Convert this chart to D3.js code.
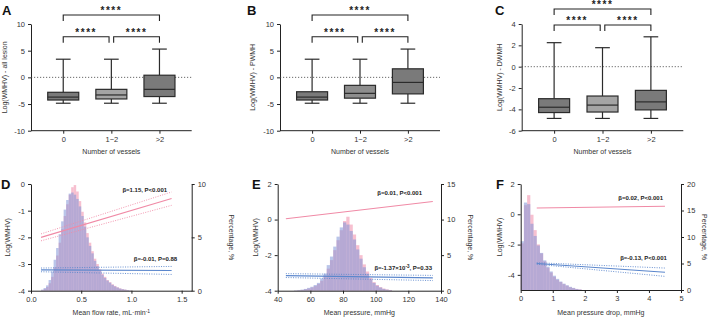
<!DOCTYPE html>
<html>
<head>
<meta charset="utf-8">
<script src="https://cdn.jsdelivr.net/npm/d3@7"></script>
<style>
  body { margin: 0; background: #fff; }
  svg { font-family: "Liberation Sans", Arial, sans-serif; }
  .axis path, .axis line { stroke: #222; stroke-width: 1; }
  .axis text { font-size: 7.5px; fill: #333; }
  .title { font-size: 7px; fill: #333; }
  .letter { font-size: 13px; font-weight: bold; fill: #111; }
  .note { font-size: 6px; font-weight: bold; fill: #222; }
</style>
</head>
<body>
<script>
// ---------- top row: box plots ----------
const vesselGroups = ["0", "1~2", ">2"];
// each row: [min, q1, median, q3, max]
const boxAllLesion = [[-4.85, -4.25, -3.7, -2.8, 3.4], [-4.85, -4.05, -3.3, -2.25, 3.4], [-4.85, -3.6, -2.25, 0.4, 5.3]];
const boxPWMH = [[-4.85, -4.25, -3.7, -2.7, 3.4], [-4.85, -3.9, -3.0, -1.5, 3.4], [-4.85, -3.1, -0.95, 1.6, 5.3]];
const boxDWMH = [[-4.85, -4.3, -3.8, -3.0, 2.25], [-4.85, -4.25, -3.6, -2.75, 1.78], [-4.85, -4.05, -3.3, -2.22, 2.8]];

// ---------- bottom row: histograms (percent per bin) ----------
const flowBinWidth = 0.025, flowBinStart = 0.1;
const flowPink = [0.05, 0.15, 0.35, 0.7, 1.3, 2.2, 3.3, 4.5, 5.8, 7.0, 8.1, 9.0, 9.7, 9.9, 9.3, 8.4, 7.4, 6.4, 5.4, 4.5,
                  3.7, 3.0, 2.5, 2.0, 1.6, 1.3, 1.0, 0.8, 0.6, 0.45, 0.32, 0.22, 0.15, 0.1, 0.06, 0.03];
const flowBlue = [0.1, 0.25, 0.5, 1.0, 1.8, 2.9, 4.0, 5.3, 6.5, 7.6, 8.5, 9.1, 9.2, 9.0, 8.6, 7.9, 7.0, 6.0, 5.0, 4.2,
                  3.5, 2.8, 2.3, 1.9, 1.5, 1.2, 0.95, 0.75, 0.55, 0.4, 0.3, 0.2, 0.14, 0.1, 0.06, 0.03];

const pressBinWidth = 2, pressBinStart = 50;
const pressPink = [0.03, 0.06, 0.1, 0.2, 0.3, 0.45, 0.65, 0.95, 1.4, 2.1, 3.1, 4.3, 5.7, 7.1, 8.5, 9.8, 10.4, 9.3, 7.9, 6.4,
                   5.0, 3.7, 2.7, 1.8, 1.2, 0.8, 0.5, 0.3, 0.18, 0.1];
const pressBlue = [0.05, 0.1, 0.15, 0.25, 0.4, 0.55, 0.8, 1.1, 1.7, 2.4, 3.6, 4.8, 6.2, 7.6, 8.9, 9.6, 9.3, 8.4, 7.2, 5.8,
                   4.5, 3.3, 2.4, 1.6, 1.1, 0.7, 0.45, 0.25, 0.15, 0.08];

const dropBinWidth = 0.1, dropBinStart = 0;
const dropPink = [8.8, 16.0, 17.9, 14.2, 11.3, 8.6, 6.9, 5.4, 4.2, 3.3, 2.5, 1.9, 1.5, 1.1, 0.8, 0.5, 0.35, 0.2, 0.1];
const dropBlue = [9.2, 16.5, 16.2, 12.5, 10.2, 8.4, 7.0, 5.6, 4.4, 3.5, 2.7, 2.1, 1.6, 1.2, 0.9, 0.6, 0.4, 0.2, 0.1];

// regression lines [x, y]
const flowPinkFit = [[0.1, -2.0], [1.4, -0.54]];
const flowPinkCI = [[[0.1, -1.87], [1.4, -0.3]], [[0.1, -2.13], [1.4, -0.8]]];
const flowBlueFit = [[0.1, -3.22], [1.4, -3.24]];
const flowBlueCI = [[[0.1, -3.15], [1.4, -3.09]], [[0.1, -3.29], [1.4, -3.39]]];

const pressPinkFit = [[45, 0.05], [135, 1.02]];
const pressPinkCI = [];
const pressBlueFit = [[45, -3.15], [135, -3.28]];
const pressBlueCI = [[[45, -3.04], [135, -3.14]], [[45, -3.26], [135, -3.43]]];

const dropPinkFit = [[0.5, 0.42], [4.5, 0.53]];
const dropPinkCI = [];
const dropBlueFit = [[0.5, -3.25], [4.5, -3.83]];
const dropBlueCI = [[[0.5, -3.2], [4.5, -3.55]], [[0.5, -3.3], [4.5, -4.1]]];

const PINK_LINE = "#f08aa6", BLUE_LINE = "#5a86cc";
const PINK_FILL = "rgba(240,140,170,0.55)", BLUE_FILL = "rgba(130,150,215,0.55)";

// plain hyphen minus like the original figure
const plain = d => String(d);

var svg = d3.select('body').append('svg')
    .attr('width', 709)
    .attr('height', 319);

function drawBoxPanel(p) {
    const g = svg.append('g');
    const x = d3.scalePoint().domain(vesselGroups).range([p.left, p.right]).padding(0.67);
    const y = d3.scaleLinear().domain(p.domain).range([p.bottom, p.top]);

    g.append('g').attr('class', 'axis')
        .attr('transform', `translate(${p.left},0)`)
        .call(d3.axisLeft(y).tickValues(p.ticks).tickFormat(plain).tickSize(3).tickSizeOuter(0));
    g.append('g').attr('class', 'axis')
        .attr('transform', `translate(0,${p.bottom})`)
        .call(d3.axisBottom(x).tickSize(3).tickSizeOuter(0))
        .call(a => a.select('.domain').attr('d', `M${p.left},0H${p.right}`));

    // dotted zero line
    g.append('line')
        .attr('x1', p.left).attr('x2', p.right)
        .attr('y1', y(0)).attr('y2', y(0))
        .attr('stroke', '#444').attr('stroke-width', 0.8)
        .attr('stroke-dasharray', '1.2,1.8');

    const bw = 31, cw = 14.7;
    p.stats.forEach((s, i) => {
        const cx = x(vesselGroups[i]);
        const b = g.append('g').attr('stroke', '#2b2b2b').attr('stroke-width', 1.2);
        b.append('line').attr('x1', cx).attr('x2', cx).attr('y1', y(s[0])).attr('y2', y(s[1]));
        b.append('line').attr('x1', cx).attr('x2', cx).attr('y1', y(s[3])).attr('y2', y(s[4]));
        b.append('line').attr('x1', cx - cw / 2).attr('x2', cx + cw / 2).attr('y1', y(s[0])).attr('y2', y(s[0]));
        b.append('line').attr('x1', cx - cw / 2).attr('x2', cx + cw / 2).attr('y1', y(s[4])).attr('y2', y(s[4]));
        b.append('rect')
            .attr('x', cx - bw / 2).attr('width', bw)
            .attr('y', y(s[3])).attr('height', y(s[1]) - y(s[3]))
            .attr('fill', p.fills[i]);
        b.append('line').attr('x1', cx - bw / 2).attr('x2', cx + bw / 2).attr('y1', y(s[2])).attr('y2', y(s[2]));
    });

    // significance brackets
    const pairs = [[0, 2, p.brackets[1]], [0, 1, p.brackets[0]], [1, 2, p.brackets[0]]];
    pairs.forEach(([a, b, lvl]) => {
        let x1 = x(vesselGroups[a]), x2 = x(vesselGroups[b]);
        if (b - a === 1) { if (a === 1) x1 += 2.3; else x2 -= 2.3; }
        const yy = y(lvl);
        g.append('path')
            .attr('d', `M${x1},${yy + 6}V${yy}H${x2}V${yy + 6}`)
            .attr('fill', 'none').attr('stroke', '#222').attr('stroke-width', 1.1);
        g.append('text')
            .attr('x', (x1 + x2) / 2).attr('y', yy - 1)
            .attr('text-anchor', 'middle')
            .attr('font-size', 10).attr('font-weight', 'bold')
            .attr('letter-spacing', 1.5)
            .attr('fill', '#222')
            .text('****');
    });

    g.append('text').attr('class', 'title')
        .attr('text-anchor', 'middle')
        .attr('x', (p.left + p.right) / 2).attr('y', 154)
        .text('Number of vessels');
    g.append('text').attr('class', 'title')
        .attr('text-anchor', 'middle')
        .attr('transform', `translate(${p.left - p.yTitleOff},${(p.top + p.bottom) / 2}) rotate(-90)`)
        .text(p.title);
    g.append('text').attr('class', 'letter')
        .attr('x', p.letterX).attr('y', 15)
        .text(p.letter);
}

function drawHistPanel(p) {
    const g = svg.append('g');
    const x = d3.scaleLinear().domain(p.xDomain).range([p.left, p.right]);
    const yL = d3.scaleLinear().domain(p.yL).range([p.bottom, p.top]);
    const yR = d3.scaleLinear().domain(p.yR).range([p.bottom, p.top]);

    [[p.pink, PINK_FILL], [p.blue, BLUE_FILL]].forEach(([vals, fill]) => {
        g.append('g').selectAll('rect')
            .data(vals)
            .join('rect')
            .attr('x', (d, i) => x(p.binStart + i * p.binWidth))
            .attr('width', (d, i) => x(p.binStart + (i + 1) * p.binWidth) - x(p.binStart + i * p.binWidth))
            .attr('y', d => yR(d))
            .attr('height', d => yR(0) - yR(d))
            .attr('fill', fill);
    });

    const line = d3.line().x(d => x(d[0])).y(d => yL(d[1]));
    [[p.pinkFit, p.pinkCI, PINK_LINE], [p.blueFit, p.blueCI, BLUE_LINE]].forEach(([fit, ci, col]) => {
        ci.forEach(c => g.append('path')
            .attr('d', line(c))
            .attr('fill', 'none').attr('stroke', col)
            .attr('stroke-width', 0.9).attr('stroke-dasharray', '1,1.4'));
        g.append('path')
            .attr('d', line(fit))
            .attr('fill', 'none').attr('stroke', col).attr('stroke-width', 1.1);
    });

    g.append('g').attr('class', 'axis')
        .attr('transform', `translate(${p.left},0)`)
        .call(d3.axisLeft(yL).tickValues(p.yLTicks).tickFormat(plain).tickSize(3).tickSizeOuter(0));
    g.append('g').attr('class', 'axis')
        .attr('transform', `translate(${p.right},0)`)
        .call(d3.axisRight(yR).tickValues(p.yRTicks).tickFormat(plain).tickSize(3).tickSizeOuter(0));
    g.append('g').attr('class', 'axis')
        .attr('transform', `translate(0,${p.bottom})`)
        .call(d3.axisBottom(x).tickValues(p.xTicks).tickFormat(p.xFormat).tickSize(3).tickSizeOuter(0));

    // annotations
    p.notes.forEach(n => {
        const t = g.append('text').attr('class', 'note')
            .attr('text-anchor', 'end')
            .attr('x', x(n.x)).attr('y', yL(n.y));
        n.parts.forEach(part => {
            const ts = t.append('tspan').text(part[0]);
            if (part[1]) ts.attr('dy', -2.5).attr('font-size', 4.5);
            else if (part[2]) ts.attr('dy', 2.5);
        });
    });

    const xt = g.append('text').attr('class', 'title')
        .attr('text-anchor', 'middle')
        .attr('x', (p.left + p.right) / 2).attr('y', 315);
    p.xTitle.forEach(part => {
        const ts = xt.append('tspan').text(part[0]);
        if (part[1]) ts.attr('dy', -2.5).attr('font-size', 5);
    });
    g.append('text').attr('class', 'title')
        .attr('text-anchor', 'middle')
        .attr('transform', `translate(${p.left - p.yLOff},${(p.top + p.bottom) / 2}) rotate(-90)`)
        .text('Log(WMHV)');
    g.append('text').attr('class', 'title')
        .attr('text-anchor', 'middle')
        .attr('transform', `translate(${p.right + p.yROff},${(p.top + p.bottom) / 2}) rotate(90)`)
        .text('Percentage, %');
    g.append('text').attr('class', 'letter')
        .attr('x', p.letterX).attr('y', 189)
        .text(p.letter);
}

drawBoxPanel({ letter: "A", letterX: 2, left: 31, right: 191.7, top: 24, bottom: 130.7,
    domain: [-10, 10], ticks: [-10, -5, 0, 5, 10], stats: boxAllLesion,
    fills: ["#7a7a7a", "#a4a4a4", "#7a7a7a"], brackets: [7.6, 11.7],
    title: "Log(WMHV) - all lesion", yTitleOff: 24 });
drawBoxPanel({ letter: "B", letterX: 247, left: 280, right: 440, top: 24, bottom: 130.7,
    domain: [-10, 10], ticks: [-10, -5, 0, 5, 10], stats: boxPWMH,
    fills: ["#7a7a7a", "#8e8e8e", "#7a7a7a"], brackets: [7.6, 11.7],
    title: "Log(WMHV) - PWMH", yTitleOff: 25 });
drawBoxPanel({ letter: "C", letterX: 495, left: 521.7, right: 683.3, top: 24, bottom: 130.7,
    domain: [-6, 4], ticks: [-6, -4, -2, 0, 2, 4], stats: boxDWMH,
    fills: ["#7a7a7a", "#a4a4a4", "#7a7a7a"], brackets: [3.9, 5.4],
    title: "Log(WMHV) - DWMH", yTitleOff: 20 });

drawHistPanel({ letter: "D", letterX: 1, left: 31, right: 191.7, top: 184, bottom: 290.7,
    xDomain: [0, 1.6], xTicks: [0, 0.5, 1, 1.5], xFormat: d3.format('.1f'),
    yL: [-4, 0], yLTicks: [-4, -3, -2, -1, 0], yR: [0, 10], yRTicks: [0, 5, 10],
    binStart: flowBinStart, binWidth: flowBinWidth, pink: flowPink, blue: flowBlue,
    pinkFit: flowPinkFit, pinkCI: flowPinkCI, blueFit: flowBlueFit, blueCI: flowBlueCI,
    notes: [{ x: 1.355, y: -0.3, parts: [["β=1.15, P<0.001"]] },
            { x: 1.455, y: -2.87, parts: [["β=-0.01, P=0.88"]] }],
    xTitle: [["Mean flow rate, mL·min"], ["-1", true]], yLOff: 21, yROff: 37 });
drawHistPanel({ letter: "E", letterX: 252, left: 277.7, right: 441, top: 184, bottom: 290.7,
    xDomain: [40, 140], xTicks: [40, 60, 80, 100, 120, 140], xFormat: plain,
    yL: [-4, 2], yLTicks: [-4, -2, 0, 2], yR: [0, 15], yRTicks: [0, 5, 10, 15],
    binStart: pressBinStart, binWidth: pressBinWidth, pink: pressPink, blue: pressBlue,
    pinkFit: pressPinkFit, pinkCI: pressPinkCI, blueFit: pressBlueFit, blueCI: pressBlueCI,
    notes: [{ x: 128.4, y: 1.38, parts: [["β=0.01, P<0.001"]] },
            { x: 134.5, y: -2.84, parts: [["β=-1.37×10"], ["-3", true], [", P=0.33", false, true]] }],
    xTitle: [["Mean pressure, mmHg"]], yLOff: 19.5, yROff: 27 });
drawHistPanel({ letter: "F", letterX: 496, left: 520.7, right: 681, top: 184, bottom: 290,
    xDomain: [0, 5], xTicks: [0, 1, 2, 3, 4, 5], xFormat: plain,
    yL: [-5, 2], yLTicks: [-4, -2, 0, 2], yR: [0, 20], yRTicks: [0, 5, 10, 15, 20],
    binStart: dropBinStart, binWidth: dropBinWidth, pink: dropPink, blue: dropBlue,
    pinkFit: dropPinkFit, pinkCI: dropPinkCI, blueFit: dropBlueFit, blueCI: dropBlueCI,
    notes: [{ x: 4.44, y: 0.94, parts: [["β=0.02, P<0.001"]] },
            { x: 4.56, y: -3.02, parts: [["β=-0.13, P<0.001"]] }],
    xTitle: [["Mean pressure drop, mmHg"]], yLOff: 19, yROff: 21 });
</script>
</body>
</html>
